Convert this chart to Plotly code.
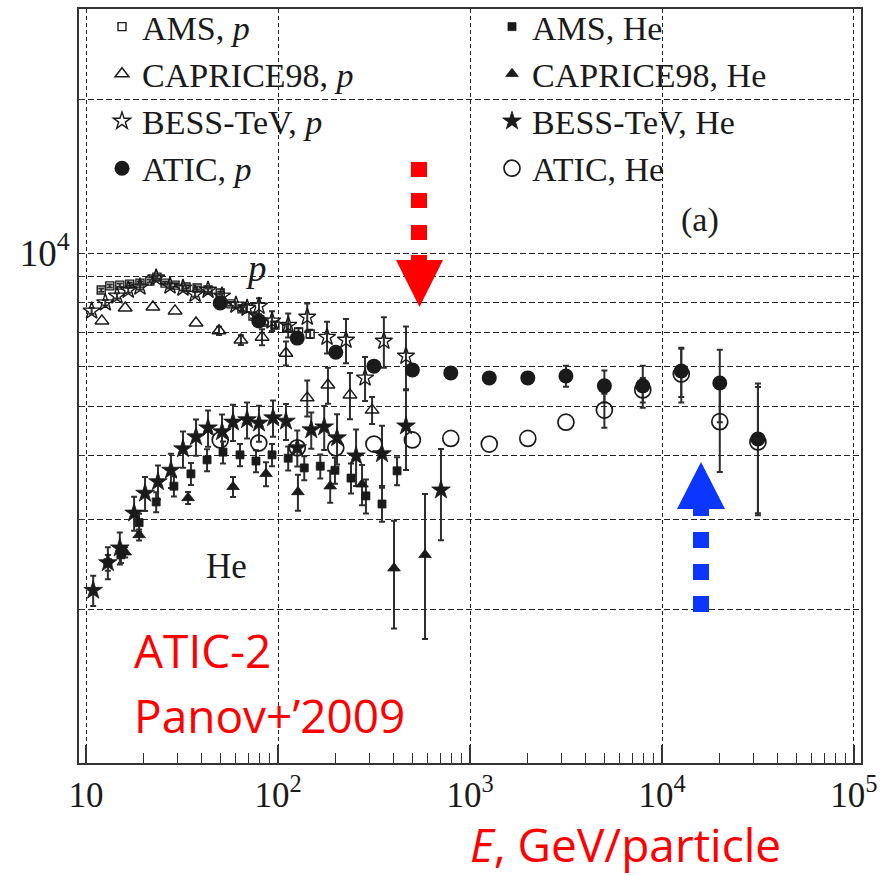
import plotly.graph_objects as go

# ---- proton spectra, flux x E^2.75 ----
ams_p_E = [12.0, 13.3, 15.0, 16.9, 19.1, 21.5, 23.4, 25.8, 29.1, 33.2, 37.9, 43.2, 50.0,
           56.9, 64.9, 74.1, 84.5, 96.4, 111, 128, 147]
ams_p_F = [8460, 8620, 8650, 8690, 8730, 8810, 8970, 8730, 8650, 8580, 8540, 8460, 8350,
           7950, 7770, 7520, 7320, 7220, 7130, 7000, 6940]
ams_p_err = [60, 60, 60, 60, 60, 60, 60, 60, 60, 60, 60, 60, 60,
             70, 70, 80, 90, 100, 110, 120, 130]

caprice_p_E = [12.1, 16.0, 22.3, 29.1, 37.4, 49.3, 64.1, 82.6, 110, 142, 182, 237, 309]
caprice_p_F = [7360, 7800, 7840, 7700, 7290, 7040, 6750, 6840, 6360, 5200, 5510, 5270, 4920]
caprice_p_err = [None, None, None, None, None, 130, 150, 247, 344, 422, 447, 550, 300]

bess_p_E = [10.7, 12.6, 14.5, 16.6, 19.1, 23.2, 27.4, 32.0, 37.0, 43.2, 51.1, 60.4, 69.0,
            79.6, 93.1, 113, 142, 180, 226, 284, 356, 464]
bess_p_F = [7700, 7990, 8240, 8460, 8580, 8940, 8620, 8540, 8310, 8460, 8240, 7910, 7800,
            7870, 7360, 7220, 7490, 6840, 6750, 5690, 6720, 6280]
bess_p_err = [100, 100, 100, 100, 100, 100, 100, 100, 100, 100, 100, 100, 140,
              284, 330, 390, 470, 490, 670, 565, 760, 900]

atic_E = [50, 79.4, 126, 200, 316, 501, 794, 1260, 2000, 3160, 5010, 7940, 12600, 20000, 31600]
atic_p_F = [7980, 7360, 6810, 6390, 6000, 5900, 5820, 5690, 5690, 5740, 5490, 5490, 5870, 5560, 4320]
atic_p_err = [None, None, None, None, None, None, None, None, None, 270, 396, 520, 650, 903, 1230]

# ---- helium spectra ----
ams_he_E = [13.0, 15.2, 18.9, 23.2, 28.7, 35.2, 42.7, 51.7, 63.4, 76.8, 93.1, 113, 137,
            166, 198, 240, 287, 348, 417]
ams_he_F = [2470, 2560, 2960, 3250, 3490, 3690, 3930, 4070, 4020, 3910, 4020, 3960, 3790,
            3820, 3750, 3620, 3340, 3220, 3740]
ams_he_err = [89, 92, 120, 147, 158, 183, 195, 202, 200, 194, 200, 215, 205,
              207, 220, 245, 256, 247, 236]

caprice_he_E = [16.0, 18.9, 34.0, 58.3, 86.6, 127, 187, 274, 402, 583]
caprice_he_F = [2590, 2800, 3310, 3480, 3690, 3400, 3490, 3520, 2410, 2560]
caprice_he_err = [60, 70, 90, 157, 200, 276, 252, 318, 575, 810]

bess_he_E = [10.9, 13.0, 15.0, 17.8, 20.3, 23.7, 27.7, 32.0, 37.4, 43.2, 51.1, 58.3, 69.0,
             79.6, 94.2, 110, 126, 149, 174, 203, 255, 348, 464, 706]
bess_he_F = [2180, 2470, 2640, 3090, 3380, 3560, 3750, 4130, 4360, 4540, 4460, 4660, 4710,
             4640, 4750, 4680, 4150, 4500, 4560, 4340, 4000, 4040, 4580, 3430]
bess_he_err = [148, 178, 191, 237, 259, 273, 288, 336, 354, 369, 363, 379, 383,
               377, 386, 380, 337, 366, 453, 490, 506, 547, 827, 697]

atic_he_F = [4300, 4240, 4150, 4150, 4220, 4300, 4330, 4220, 4330, 4660, 4920, 5390, 5790, 4670, 4260]
atic_he_err = [None, None, None, None, None, None, None, None, None, None, 378, 300, 700, 950, 1200]

x_tick_vals = [10, 100, 1000, 10000, 100000]
x_tick_text = ["10", "10<sup>2</sup>", "10<sup>3</sup>", "10<sup>4</sup>", "10<sup>5</sup>"]
y_grid_vals = [2000, 3000, 4000, 5000, 6000, 7000, 8000, 9000, 10000, 20000]
y_tick_text = ["", "", "", "", "", "", "", "", "10<sup>4</sup>", ""]

# ---- page geometry (pixels) ----
W, H = 884, 875
ML, MR, MT, MB = 79, 23, 9, 112
PW, PH = W - ML - MR, H - MT - MB


def px(x):
    return (x - ML) / PW


def py(y):
    return (H - MB - y) / PH


INK = "#1a1a1a"
SERIF = "Liberation Serif"

fig = go.Figure()


def add_errors(xs, ys, es):
    """Error bars only for the points that carry one."""
    keep = [i for i, e in enumerate(es) if e is not None]
    fig.add_trace(go.Scatter(
        x=[xs[i] for i in keep], y=[ys[i] for i in keep], mode="markers",
        marker=dict(size=1, opacity=0), showlegend=False, hoverinfo="skip",
        error_y=dict(type="data", array=[es[i] for i in keep], visible=True,
                     color="#2e2e2e", thickness=2, width=3),
    ))


series = [
    # name, legend, x, y, err, symbol, size, outline
    ("AMS, <i>p</i>", "legend", ams_p_E, ams_p_F, ams_p_err, "square-open", 8, 1.4),
    ("CAPRICE98, <i>p</i>", "legend", caprice_p_E, caprice_p_F, caprice_p_err, "triangle-up-open", 12, 1.5),
    ("BESS-TeV, <i>p</i>", "legend", bess_p_E, bess_p_F, bess_p_err, "star-open", 13, 1.4),
    ("ATIC, <i>p</i>", "legend", atic_E, atic_p_F, atic_p_err, "circle", 15, 0),
    ("AMS, He", "legend2", ams_he_E, ams_he_F, ams_he_err, "square", 8, 0.8),
    ("CAPRICE98, He", "legend2", caprice_he_E, caprice_he_F, caprice_he_err, "triangle-up", 11, 0.8),
    ("BESS-TeV, He", "legend2", bess_he_E, bess_he_F, bess_he_err, "star", 14, 0.8),
    ("ATIC, He", "legend2", atic_E, atic_he_F, atic_he_err, "circle-open", 16, 1.7),
]

for _, _, xs, ys, es, *_ in series:
    add_errors(xs, ys, es)

for name, leg, xs, ys, es, sym, size, lw in series:
    fig.add_trace(go.Scatter(
        x=xs, y=ys, mode="markers", name=name, legend=leg,
        marker=dict(symbol=sym, size=size, color=INK, line=dict(width=lw, color=INK)),
    ))

minor_x = [m * 10 ** k for k in range(1, 5) for m in range(2, 10)]

fig.update_xaxes(
    type="log", range=[0.9635, 5.0365],
    tickmode="array", tickvals=x_tick_vals, ticktext=x_tick_text,
    ticks="inside", ticklen=18, tickwidth=1.5, tickcolor="#333",
    minor=dict(tickmode="array", tickvals=minor_x, ticks="inside", ticklen=10,
               tickwidth=1.2, tickcolor="#333", showgrid=False),
    showgrid=True, gridcolor="#222", gridwidth=1.2, griddash="4px,3px",
    showline=True, mirror=True, linecolor="#333", linewidth=2,
    tickfont=dict(family=SERIF, size=35, color=INK),
    zeroline=False,
)
fig.update_yaxes(
    type="log", range=[3.0, 4.4785],
    tickmode="array", tickvals=y_grid_vals, ticktext=y_tick_text,
    ticks="inside", ticklen=6, tickwidth=1.2, tickcolor="#333",
    showgrid=True, gridcolor="#222", gridwidth=1.2, griddash="6px,3px",
    showline=True, mirror=True, linecolor="#333", linewidth=2,
    tickfont=dict(family=SERIF, size=37, color=INK),
    zeroline=False,
)

legend_style = dict(
    bgcolor="rgba(0,0,0,0)", borderwidth=0, xanchor="left", yanchor="top",
    font=dict(family=SERIF, size=34, color=INK), tracegroupgap=0,
    itemclick=False,
)

fig.update_layout(
    width=W, height=H,
    margin=dict(l=ML, r=MR, t=MT, b=MB, autoexpand=False),
    paper_bgcolor="white", plot_bgcolor="white",
    showlegend=True,
    legend=dict(x=px(102), y=py(-2), **legend_style),
    legend2=dict(x=px(492), y=py(-2), **legend_style),
)

RED = "#ff0000"
BLUE = "#0a36ff"


def rect(x0, y0, x1, y1, color, layer="above"):
    return dict(type="rect", xref="paper", yref="paper",
                x0=px(x0), x1=px(x1), y0=py(y1), y1=py(y0),
                fillcolor=color, line=dict(width=0), layer=layer)


def tri(pts, color):
    path = "M " + " L ".join(f"{px(a):.5f},{py(b):.5f}" for a, b in pts) + " Z"
    return dict(type="path", xref="paper", yref="paper", path=path,
                fillcolor=color, line=dict(width=0))


shapes = [
    # blank panels behind the two legend columns (hide the grid there)
    rect(82, 10, 90, 191, "white", layer="between"),
    rect(105, 10, 379, 191, "white", layer="between"),
    rect(488, 10, 793, 191, "white", layer="between"),
    # red arrow, pointing down
    rect(411, 162, 427, 177, RED), rect(411, 193, 427, 208, RED), rect(411, 225, 427, 240, RED),
    rect(411, 255, 427, 262, RED),
    tri([(396, 260), (443, 260), (419.5, 307)], RED),
    # blue arrow, pointing up
    tri([(677, 509), (725, 509), (701, 462)], BLUE),
    rect(693, 508, 709, 516, BLUE),
    rect(693, 532, 709, 548, BLUE), rect(693, 564, 709, 580, BLUE), rect(693, 596, 709, 612, BLUE),
]
fig.update_layout(shapes=shapes)

ann = [
    dict(x=px(256), y=py(268), text="<i>p</i>", font=dict(family=SERIF, size=37, color=INK)),
    dict(x=px(226), y=py(566), text="He", font=dict(family=SERIF, size=35, color=INK)),
    dict(x=px(700), y=py(220), text="(a)", font=dict(family=SERIF, size=34, color=INK)),
    dict(x=px(132), y=py(650), text="ATIC-2", xanchor="left",
         font=dict(family="Open Sans", size=46, color=RED)),
    dict(x=px(132), y=py(715), text="Panov+’2009", xanchor="left",
         font=dict(family="Open Sans", size=46, color=RED)),
    dict(x=px(468), y=py(844), text="<i>E</i>, GeV/particle", xanchor="left",
         font=dict(family="Open Sans", size=46, color=RED)),
]
for a in ann:
    a.update(xref="paper", yref="paper", showarrow=False, yanchor="middle")
    a.setdefault("xanchor", "center")
fig.update_layout(annotations=ann)

fig.write_html("out.html")
